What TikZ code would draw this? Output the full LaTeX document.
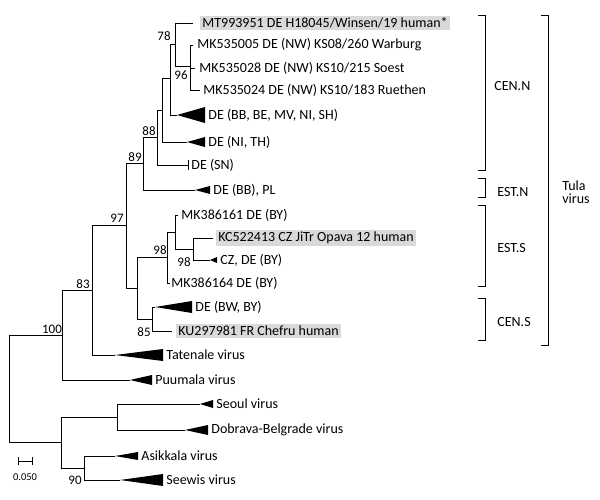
\documentclass[tikz,border=0pt]{standalone}
\usepackage{fontspec}
\setmainfont{Carlito}
\tikzset{
  tip/.style={anchor=west, inner sep=1pt, font=\fontsize{14}{16}\selectfont},
  hl/.style={tip, fill=black!15, inner sep=2pt},
  sup/.style={font=\fontsize{13}{14}\selectfont, inner sep=0pt},
  grp/.style={anchor=west, font=\fontsize{14}{14}\selectfont, align=left, inner sep=0pt},
  br/.style={line width=1pt},
}
% collapsed clade: name, start x, end x, y, half height
\newcommand\clade[5]{%
  \coordinate (#1) at (#2,#4);
  \fill (#2,#4) -- (#3,#4-#5) -- (#3,#4+#5) -- cycle;}
\begin{document}
\begin{tikzpicture}[x=1pt,y=-1pt,line width=0.8pt]
\useasboundingbox (0,0) rectangle (600,499);
% internal nodes
\coordinate (root) at (9,388);
\coordinate (n100) at (62,335);
\coordinate (nhan) at (61,442);
\coordinate (n83) at (92,290);
\coordinate (n97) at (126,225);
\coordinate (n89) at (143,163);
\coordinate (n88) at (157,137);
\coordinate (nA) at (162,110);
\coordinate (nB) at (170,78);
\coordinate (n78) at (175,44);
\coordinate (n96) at (190,66);
\coordinate (nS) at (137,288);
\coordinate (n98) at (167,257);
\coordinate (nC) at (175,232);
\coordinate (n98b) at (193,249);
\coordinate (n85) at (152,319);
\coordinate (nseo) at (117,417);
\coordinate (n90) at (84,468);
% tips
\coordinate (mt) at (193,23);
\coordinate (mk05) at (193,45);
\coordinate (mk28) at (195,68);
\coordinate (mk24) at (200,90);
\coordinate (sn) at (188,165);
\coordinate (mk61) at (178,215);
\coordinate (kc) at (213,238);
\coordinate (mk64) at (170,283);
\coordinate (ku) at (172,331);
\clade{bbbe}{177}{205}{115}{8}
\clade{nith}{187}{205}{142}{5}
\clade{bbpl}{195}{210}{190}{4}
\clade{czde}{210}{217}{260}{3}
\clade{bwby}{155}{192}{307}{6}
\clade{tat}{115}{163}{355}{6}
\clade{puu}{130}{152}{380}{5}
\clade{seo}{200}{213}{404}{4}
\clade{dob}{185}{208}{430}{5}
\clade{asi}{115}{138}{456}{4}
\clade{see}{120}{163}{480}{6}
% branches
\foreach \p/\c in {root/n100, root/nhan, n100/n83, n100/puu, n83/n97, n83/tat,
  n97/n89, n97/nS, n89/n88, n89/bbpl, n88/nA, n88/sn, nA/nB, nA/nith,
  nB/n78, nB/bbbe, n78/mt, n78/n96, n96/mk05, n96/mk28, n96/mk24,
  nS/n98, nS/n85, n98/nC, n98/mk64, nC/mk61, nC/n98b, n98b/kc, n98b/czde,
  n85/bwby, n85/ku, nhan/nseo, nhan/n90, nseo/seo, nseo/dob, n90/asi, n90/see}
  \draw (\p) |- (\c);
\draw (sn) ++(0,-5) -- ++(0,10);
% tip labels
\node[hl] (tmt) at (200,23) {MT993951 DE H18045/Winsen/19 human*};
\node[tip] (t05) at (196,45) {MK535005 DE (NW) KS08/260 Warburg};
\node[tip] (t28) at (198,68) {MK535028 DE (NW) KS10/215 Soest};
\node[tip] (t24) at (202,90) {MK535024 DE (NW) KS10/183 Ruethen};
\node[tip] (tbb) at (207,115) {DE (BB, BE, MV, NI, SH)};
\node[tip] (tni) at (207,142) {DE (NI, TH)};
\node[tip] (tsn) at (190,165) {DE (SN)};
\node[tip] (tpl) at (212,190) {DE (BB), PL};
\node[tip] (t61) at (180,215) {MK386161 DE (BY)};
\node[hl] (tkc) at (216,238) {KC522413 CZ JiTr Opava 12 human};
\node[tip] (tcz) at (219,260) {CZ, DE (BY)};
\node[tip] (t64) at (170,283) {MK386164 DE (BY)};
\node[tip] (tbw) at (194,307) {DE (BW, BY)};
\node[hl] (tku) at (176,331) {KU297981 FR Chefru human};
\node[tip] (ttat) at (165,355) {Tatenale virus};
\node[tip] (tpuu) at (154,380) {Puumala virus};
\node[tip] (tseo) at (215,404) {Seoul virus};
\node[tip] (tdob) at (210,430) {Dobrava-Belgrade virus};
\node[tip] (tasi) at (140,456) {Asikkala virus};
\node[tip] (tsee) at (165,480) {Seewis virus};
% support values
\node[sup] (s78) at (164,36) {78};
\node[sup] (s96) at (181,75) {96};
\node[sup] (s88) at (149,131) {88};
\node[sup] (s89) at (135,157) {89};
\node[sup] (s97) at (117,218) {97};
\node[sup] (s98) at (160,250) {98};
\node[sup] (s98b) at (184,262) {98};
\node[sup] (s85) at (144,332) {85};
\node[sup] (s83) at (83,284) {83};
\node[sup] (s100) at (52,329) {100};
\node[sup] (s90) at (75,480) {90};
% scale bar
\draw (18,461) -- (32,461) (18,457) -- (18,465) (32,457) -- (32,465);
\node[font=\fontsize{10.5}{10}\selectfont] (scale) at (25,477) {0.050};
% groups
\draw[br] (478,15) -| (485,170) -- (478,170);
\node[grp] (gcn) at (494,86) {CEN.N};
\draw[br] (478,178) -| (485,197) -- (478,197);
\node[grp] (gen) at (497,192) {EST.N};
\draw[br] (478,205) -| (485,286) -- (478,286);
\node[grp] (ges) at (497,248) {EST.S};
\draw[br] (478,298) -| (485,340) -- (478,340);
\node[grp] (gcs) at (497,322) {CEN.S};
\draw[br] (541,15) -| (548,345) -- (541,345);
\node[grp, font=\fontsize{14}{13}\selectfont] (gtula) at (562,192) {Tula\\virus};
\end{tikzpicture}
\end{document}
